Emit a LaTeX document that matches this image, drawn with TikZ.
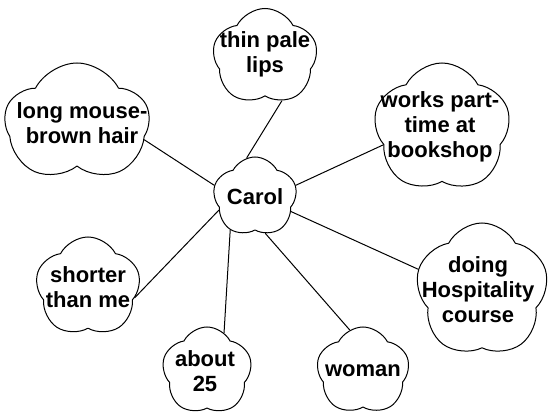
\documentclass[tikz,border=0pt]{standalone}
\usepackage{fontspec}
\setmainfont{Liberation Sans}
\usetikzlibrary{shapes.symbols}

\begin{document}
\begin{tikzpicture}[line cap=round,line join=round,x=1pt,y=1pt,
		puff/.style={cloud,cloud puffs=5,cloud puff arc=125,draw,line width=1pt,inner sep=0pt},
		txt/.style={font=\fontsize{22}{25}\selectfont\bfseries,align=center}]
	\clip(0.,-420.) rectangle (552.,0.);
	\node [puff,minimum width=105pt,minimum height=97pt,label={[txt,yshift=3pt]center:thin pale\\lips}] (lips) at (265.,-57.) {};
	\node [puff,minimum width=145pt,minimum height=120pt,label={[txt,xshift=5pt]center:long mouse-\\brown hair}] (hair) at (77.,-123.) {};
	\node [puff,minimum width=84pt,minimum height=80pt,label={[txt]center:Carol}] (carol) at (255.,-197.) {};
	\node [puff,minimum width=137pt,minimum height=130pt,label={[txt,xshift=-2pt,yshift=1pt]center:works part-\\time at\\bookshop}] (shop) at (442.,-128.) {};
	\node [puff,minimum width=133pt,minimum height=134pt,label={[txt,xshift=-4pt]center:doing\\Hospitality\\course}] (course) at (482.,-290.) {};
	\node [puff,minimum width=105pt,minimum height=100pt,label={[txt]center:shorter\\than me}] (shorter) at (88.,-287.) {};
	\node [puff,minimum width=90pt,minimum height=88pt,label={[txt,xshift=-2pt]center:about\\25}] (about) at (207.,-371.) {};
	\node [puff,minimum width=93pt,minimum height=88pt,label={[txt]center:woman}] (woman) at (363.,-371.) {};
	\draw [line width=1pt] (carol.102)-- (lips.291);
	\draw [line width=1pt] (carol.164)-- (hair.346);
	\draw [line width=1pt] (carol.16)-- (shop.196);
	\draw [line width=1pt] (carol.338)-- (course.162);
	\draw [line width=1pt] (carol.200)-- (shorter.347);
	\draw [line width=1pt] (carol.233)-- (about.66);
	\draw [line width=1pt] (carol.286)-- (woman.108);
\end{tikzpicture}
\end{document}
